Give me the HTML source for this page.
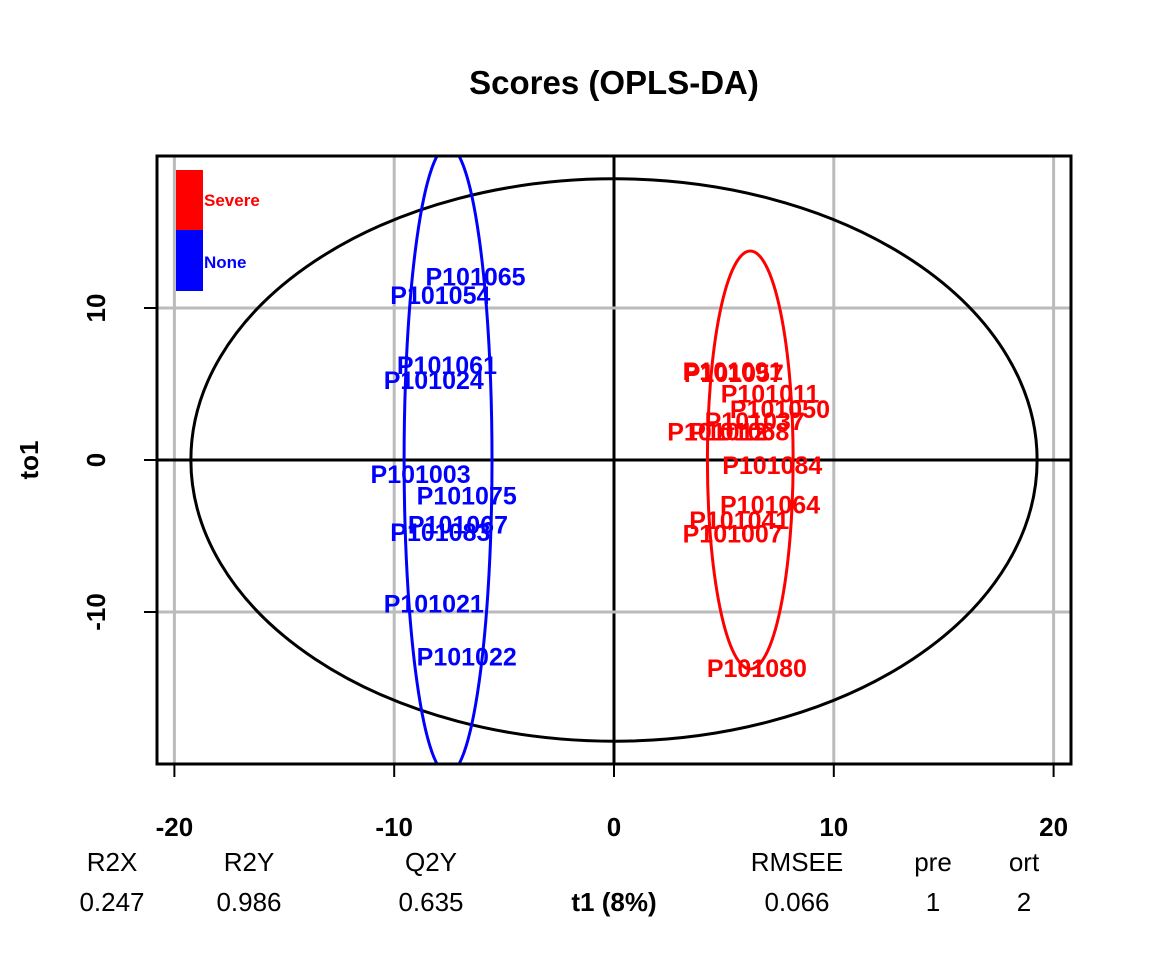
<!DOCTYPE html>
<html><head><meta charset="utf-8"><style>
html,body{margin:0;padding:0;background:#fff;}
svg{display:block;font-family:"Liberation Sans",Arial,sans-serif;}
</style></head><body>
<svg id="chart" width="1152" height="960" viewBox="0 0 1152 960">
<defs><clipPath id="plotclip"><rect x="157" y="156" width="914" height="608"/></clipPath></defs>
<text x="614" y="94" text-anchor="middle" font-size="33" font-weight="bold">Scores (OPLS-DA)</text>
<g id="grid"></g>
<g id="ellipses" clip-path="url(#plotclip)"></g>
<g id="labels"></g>
<rect x="157" y="156" width="914" height="608" fill="none" stroke="#000" stroke-width="3"/>
<g id="axes"></g>
<g>
<rect x="176" y="170" width="27" height="60" fill="#ff0000"/>
<rect x="176" y="230" width="27" height="61" fill="#0000ff"/>
<text x="204" y="206" font-size="17" font-weight="bold" fill="#ff0000">Severe</text>
<text x="204" y="268" font-size="17" font-weight="bold" fill="#0000ff">None</text>
</g>
<text transform="translate(38,460) rotate(-90)" text-anchor="middle" font-size="26" font-weight="bold">to1</text>
<g font-size="26" text-anchor="middle">
<text x="112" y="871">R2X</text>
<text x="112" y="911">0.247</text>
<text x="249" y="871">R2Y</text>
<text x="249" y="911">0.986</text>
<text x="431" y="871">Q2Y</text>
<text x="431" y="911">0.635</text>
<text x="797" y="871">RMSEE</text>
<text x="797" y="911">0.066</text>
<text x="933" y="871">pre</text>
<text x="933" y="911">1</text>
<text x="1024" y="871">ort</text>
<text x="1024" y="911">2</text>
<text x="614" y="911" font-weight="bold">t1 (8%)</text>
</g>
</svg>
<script>
const xTicks = [-20, -10, 0, 10, 20];
const yTicks = [-10, 0, 10];
const severeIds = ["P101091","P101057","P101011","P101050","P101037","P101012","P101068","P101084","P101064","P101041","P101007","P101080"];
const severeT1 = [5.4, 5.45, 7.1, 7.55, 6.4, 4.7, 5.7, 7.2, 7.1, 5.7, 5.4, 6.5];
const severeTo1 = [5.8, 5.65, 4.3, 3.3, 2.5, 1.8, 1.8, -0.4, -3.0, -4.0, -4.9, -13.75];
const noneIds = ["P101065","P101054","P101061","P101024","P101003","P101075","P101067","P101083","P101021","P101022"];
const noneT1 = [-6.3, -7.9, -7.6, -8.2, -8.8, -6.7, -7.1, -7.9, -8.2, -6.7];
const noneTo1 = [12.0, 10.8, 6.2, 5.2, -1.0, -2.4, -4.3, -4.8, -9.5, -13.0];
const ellCx = [0, 6.2, -7.55];
const ellCy = [0, 0, 0];
const ellRx = [19.25, 1.95, 2.0];
const ellRy = [18.5, 13.75, 20.65];
const ellColor = ["#000000", "#ff0000", "#0000ff"];
const ellNames = ["ellipse-total", "ellipse-severe", "ellipse-none"];

const NS = "http://www.w3.org/2000/svg";
const xs = v => 614 + v * 21.98;
const ys = v => 460 - v * 15.2;
function mk(tag, attrs, parent) {
  const e = document.createElementNS(NS, tag);
  for (const k in attrs) e.setAttribute(k, attrs[k]);
  parent.appendChild(e);
  return e;
}
const grid = document.getElementById("grid");
xTicks.forEach(v => {
  const l = mk("line", {x1: xs(v), x2: xs(v), y1: 156, y2: 764, stroke: v === 0 ? "#000" : "#bbb", "stroke-width": 3}, grid);
  
  
});
yTicks.forEach(v => {
  const l = mk("line", {x1: 157, x2: 1071, y1: ys(v), y2: ys(v), stroke: v === 0 ? "#000" : "#bbb", "stroke-width": 3}, grid);
  
  
});
const axes = document.getElementById("axes");
xTicks.forEach(v => {
  const t = mk("line", {x1: xs(v), x2: xs(v), y1: 764, y2: 777, stroke: "#000", "stroke-width": 2}, axes);
  
  
  const tx = mk("text", {x: xs(v), y: 836, "text-anchor": "middle", "font-size": 26, "font-weight": "bold"}, axes);
  tx.textContent = v;
  
  
});
yTicks.forEach(v => {
  const t = mk("line", {x1: 144, x2: 157, y1: ys(v), y2: ys(v), stroke: "#000", "stroke-width": 2}, axes);
  
  
  const tx = mk("text", {transform: `translate(105,${ys(v)}) rotate(-90)`, "text-anchor": "middle", "font-size": 26, "font-weight": "bold"}, axes);
  tx.textContent = v;
  
  
});
const eg = document.getElementById("ellipses");
ellCx.forEach((c, i) => {
  const e = mk("ellipse", {cx: xs(c), cy: ys(ellCy[i]), rx: ellRx[i] * 21.98, ry: ellRy[i] * 15.2, fill: "none", stroke: ellColor[i], "stroke-width": 3}, eg);
  
  
});
const lg = document.getElementById("labels");
function drawLabels(ids, t1, to1, color) {
  ids.forEach((id, i) => {
    const tx = mk("text", {x: xs(t1[i]), y: ys(to1[i]) + 8, "text-anchor": "middle", "font-size": 25, "font-weight": "bold", fill: color}, lg);
    tx.textContent = id;
    
    
  });
}
drawLabels(severeIds, severeT1, severeTo1, "#ff0000");
drawLabels(noneIds, noneT1, noneTo1, "#0000ff");
</script>
</body></html>
